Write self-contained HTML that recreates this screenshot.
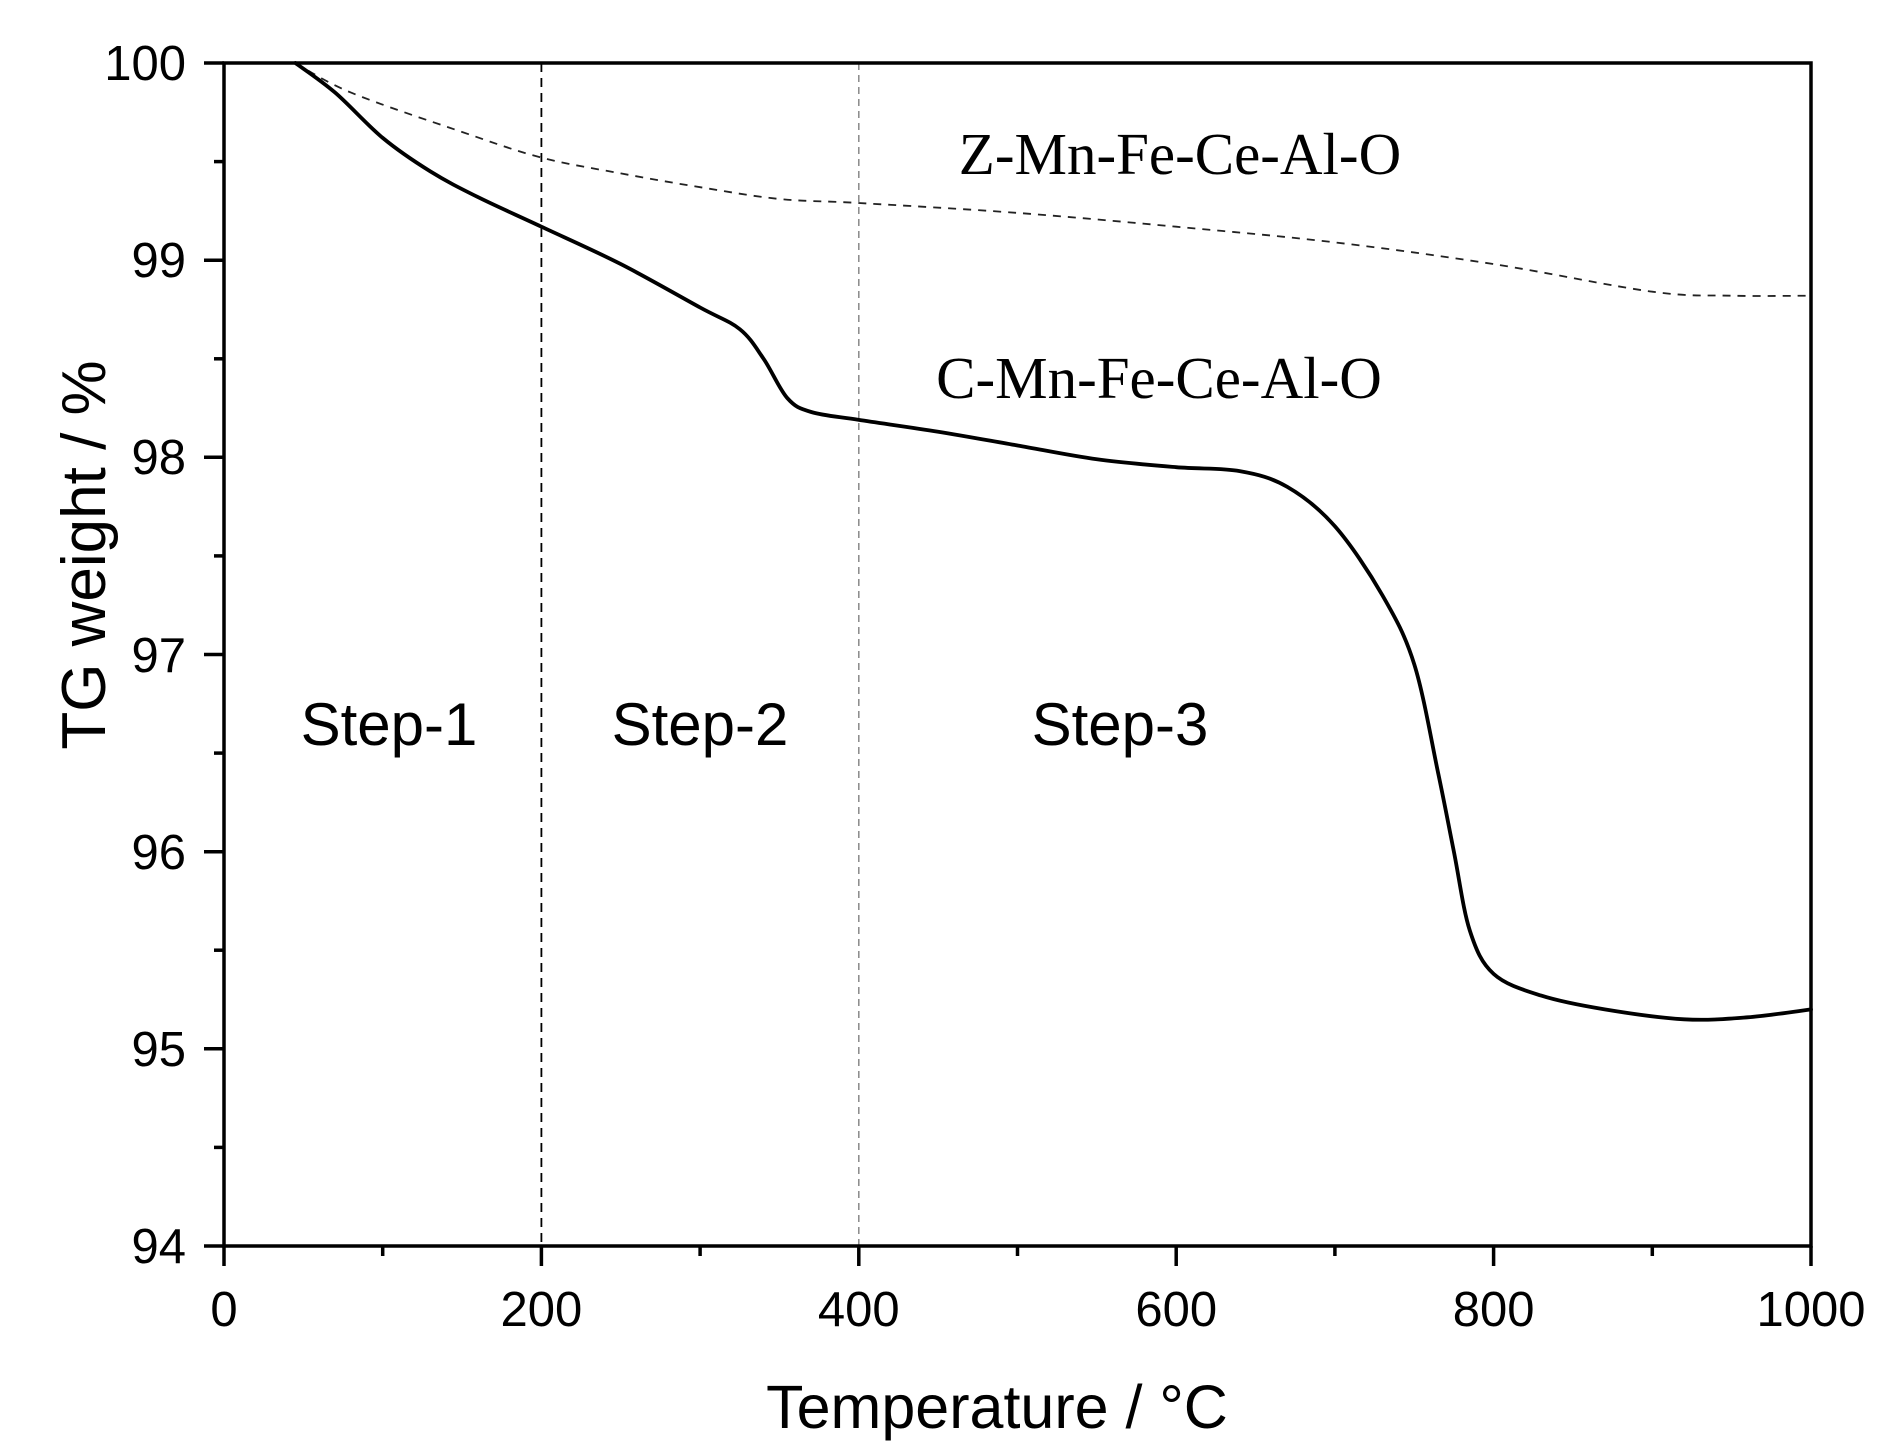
<!DOCTYPE html>
<html><head><style>html,body{margin:0;padding:0;background:#fff}svg{display:block}</style></head>
<body>
<svg id="s" width="1878" height="1451" viewBox="0 0 1878 1451" xmlns="http://www.w3.org/2000/svg">
<rect width="1878" height="1451" fill="#fff"/>
<line x1="541.4" y1="63" x2="541.4" y2="1246" stroke="#000" stroke-width="1.8" stroke-dasharray="9 6"/>
<line x1="858.8" y1="63" x2="858.8" y2="1246" stroke="#888" stroke-width="1.5" stroke-dasharray="7 5"/>
<path id="z" fill="none" stroke="#222" stroke-width="1.8" stroke-dasharray="8 7"
data-p="295.4,63 351,92.6 462.1,132 541.4,157.6 620.8,173.4 700.1,187.2 779.5,199 858.8,203 1017.5,212.9 1176.2,226.7 1334.9,242.4 1493.6,264.1 1652.3,291.7 1731.7,295.7 1811,295.7"/>
<path id="c" fill="none" stroke="#000" stroke-width="3.8" stroke-linejoin="round" stroke-linecap="round"
data-p="295.4,63 335.1,92.6 382.7,137.9 430.3,171.4 477.9,197.1 541.4,226.7 620.8,264.1 700.1,307.5 739.8,329.2 763.6,358.8 787.4,398.2 811.2,412 858.8,419.9 938.2,431.7 1017.5,445.5 1096.9,459.3 1176.2,467.2 1239.7,471.1 1287.3,486.9 1334.9,526.3 1382.5,595.4 1414.3,664.4 1438.1,772.8 1453.9,851.7 1469.8,930.5 1493.6,973.9 1541.2,995.6 1604.7,1009.4 1684,1019.3 1747.5,1017.3 1811,1009.4"/>
<rect x="224" y="63" width="1587" height="1183" fill="none" stroke="#000" stroke-width="3.5"/>
<g stroke="#000" stroke-width="3.5">
<line x1="204" y1="63" x2="224" y2="63"/><line x1="204" y1="260.2" x2="224" y2="260.2"/><line x1="204" y1="457.3" x2="224" y2="457.3"/><line x1="204" y1="654.5" x2="224" y2="654.5"/><line x1="204" y1="851.7" x2="224" y2="851.7"/><line x1="204" y1="1048.8" x2="224" y2="1048.8"/><line x1="204" y1="1246" x2="224" y2="1246"/>
<line x1="214" y1="161.6" x2="224" y2="161.6"/><line x1="214" y1="358.8" x2="224" y2="358.8"/><line x1="214" y1="555.9" x2="224" y2="555.9"/><line x1="214" y1="753.1" x2="224" y2="753.1"/><line x1="214" y1="950.2" x2="224" y2="950.2"/><line x1="214" y1="1147.4" x2="224" y2="1147.4"/>
<line x1="224" y1="1246" x2="224" y2="1266"/><line x1="541.4" y1="1246" x2="541.4" y2="1266"/><line x1="858.8" y1="1246" x2="858.8" y2="1266"/><line x1="1176.2" y1="1246" x2="1176.2" y2="1266"/><line x1="1493.6" y1="1246" x2="1493.6" y2="1266"/><line x1="1811" y1="1246" x2="1811" y2="1266"/>
<line x1="382.7" y1="1246" x2="382.7" y2="1256"/><line x1="700.1" y1="1246" x2="700.1" y2="1256"/><line x1="1017.5" y1="1246" x2="1017.5" y2="1256"/><line x1="1334.9" y1="1246" x2="1334.9" y2="1256"/><line x1="1652.3" y1="1246" x2="1652.3" y2="1256"/>
</g>
<g font-family="Liberation Sans, sans-serif" font-size="49" fill="#000">
<g text-anchor="end">
<text x="186" y="80">100</text><text x="186" y="277">99</text><text x="186" y="474">98</text><text x="186" y="672">97</text><text x="186" y="869">96</text><text x="186" y="1066">95</text><text x="186" y="1263">94</text>
</g>
<g text-anchor="middle">
<text x="224" y="1326">0</text><text x="541.4" y="1326">200</text><text x="858.8" y="1326">400</text><text x="1176.2" y="1326">600</text><text x="1493.6" y="1326">800</text><text x="1811" y="1326">1000</text>
</g>
</g>
<g font-family="Liberation Sans, sans-serif" fill="#000" text-anchor="middle">
<text x="997" y="1428" font-size="61">Temperature / °C</text>
<text x="0" y="0" font-size="62" transform="translate(105,555) rotate(-90)">TG  weight / %</text>
<text x="389" y="745" font-size="60">Step-1</text>
<text x="700" y="745" font-size="60">Step-2</text>
<text x="1120" y="745" font-size="60">Step-3</text>
</g>
<g font-family="Liberation Serif, serif" fill="#000" text-anchor="middle" font-size="59">
<text x="1180" y="174">Z-Mn-Fe-Ce-Al-O</text>
<text x="1159" y="398">C-Mn-Fe-Ce-Al-O</text>
</g>
</svg>
<script>
['z','c'].forEach(function(id){
 var el=document.getElementById(id);
 var p=el.getAttribute('data-p').trim().split(/\s+/).map(function(s){return s.split(',').map(Number)});
 var d='M'+p[0][0]+','+p[0][1];
 for(var i=0;i<p.length-1;i++){
  var p0=p[i-1]||p[i],p1=p[i],p2=p[i+1],p3=p[i+2]||p2;
  var c1=[p1[0]+(p2[0]-p0[0])/6,p1[1]+(p2[1]-p0[1])/6];
  var c2=[p2[0]-(p3[0]-p1[0])/6,p2[1]-(p3[1]-p1[1])/6];
  d+=' C'+c1[0]+','+c1[1]+' '+c2[0]+','+c2[1]+' '+p2[0]+','+p2[1];
 }
 el.setAttribute('d',d);
});
</script>
</body></html>
